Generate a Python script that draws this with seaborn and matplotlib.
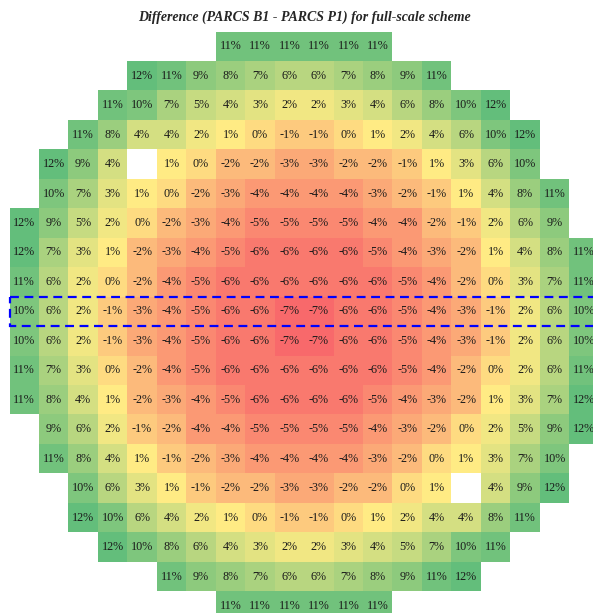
import numpy as np
import pandas as pd
import seaborn as sns
import matplotlib.pyplot as plt
from matplotlib.colors import LinearSegmentedColormap
from matplotlib.patches import Rectangle

# Core map: for each row, the first occupied column and the values (%) from there on.
# None marks an empty position inside the core.
row_start = [7, 4, 3, 2, 1, 1, 0, 0, 0, 0, 0, 0, 0, 1, 1, 2, 2, 3, 5, 7]
row_values = [
    [11, 11, 11, 11, 11, 11],
    [12, 11, 9, 8, 7, 6, 6, 7, 8, 9, 11],
    [11, 10, 7, 5, 4, 3, 2, 2, 3, 4, 6, 8, 10, 12],
    [11, 8, 4, 4, 2, 1, 0, -1, -1, 0, 1, 2, 4, 6, 10, 12],
    [12, 9, 4, None, 1, 0, -2, -2, -3, -3, -2, -2, -1, 1, 3, 6, 10],
    [10, 7, 3, 1, 0, -2, -3, -4, -4, -4, -4, -3, -2, -1, 1, 4, 8, 11],
    [12, 9, 5, 2, 0, -2, -3, -4, -5, -5, -5, -5, -4, -4, -2, -1, 2, 6, 9],
    [12, 7, 3, 1, -2, -3, -4, -5, -6, -6, -6, -6, -5, -4, -3, -2, 1, 4, 8, 11],
    [11, 6, 2, 0, -2, -4, -5, -6, -6, -6, -6, -6, -6, -5, -4, -2, 0, 3, 7, 11],
    [10, 6, 2, -1, -3, -4, -5, -6, -6, -7, -7, -6, -6, -5, -4, -3, -1, 2, 6, 10],
    [10, 6, 2, -1, -3, -4, -5, -6, -6, -7, -7, -6, -6, -5, -4, -3, -1, 2, 6, 10],
    [11, 7, 3, 0, -2, -4, -5, -6, -6, -6, -6, -6, -6, -5, -4, -2, 0, 2, 6, 11],
    [11, 8, 4, 1, -2, -3, -4, -5, -6, -6, -6, -6, -5, -4, -3, -2, 1, 3, 7, 12],
    [9, 6, 2, -1, -2, -4, -4, -5, -5, -5, -5, -4, -3, -2, 0, 2, 5, 9, 12],
    [11, 8, 4, 1, -1, -2, -3, -4, -4, -4, -4, -3, -2, 0, 1, 3, 7, 10],
    [10, 6, 3, 1, -1, -2, -2, -3, -3, -2, -2, 0, 1, None, 4, 9, 12],
    [12, 10, 6, 4, 2, 1, 0, -1, -1, 0, 1, 2, 4, 4, 8, 11],
    [12, 10, 8, 6, 4, 3, 2, 2, 3, 4, 5, 7, 10, 11],
    [11, 9, 8, 7, 6, 6, 7, 8, 9, 11, 12],
    [11, 11, 11, 11, 11, 11],
]
highlight_row = 9
title = "Difference (PARCS B1 - PARCS P1) for full-scale scheme"

n = 20
grid = np.full((n, n), np.nan)
for r, (start, vals) in enumerate(zip(row_start, row_values)):
    for j, v in enumerate(vals):
        if v is not None:
            grid[r, start + j] = v
df = pd.DataFrame(grid)
labels = np.array([["" if np.isnan(v) else f"{int(v)}%" for v in row] for row in grid])

# Three-colour scale: red (low) -> yellow (mid) -> green (high)
vmin, vmid, vmax = -7, 1, 12
cmap = LinearSegmentedColormap.from_list(
    "rdylgn_soft",
    [(0.0, "#F8696B"), ((vmid - vmin) / (vmax - vmin), "#FFEB84"), (1.0, "#63BE7B")],
)

sns.set_theme(style="white")
plt.rcParams["font.family"] = ["Liberation Serif", "DejaVu Serif"]

W, H = 593, 613
fig = plt.figure(figsize=(W / 100, H / 100), dpi=100)
cell = 29.46
x0, y0 = 9.5, 31.5
ax = fig.add_axes([x0 / W, (H - (y0 + n * cell)) / H, n * cell / W, n * cell / H])

sns.heatmap(
    df, ax=ax, cmap=cmap, vmin=vmin, vmax=vmax,
    annot=labels, fmt="", cbar=False,
    xticklabels=False, yticklabels=False,
    annot_kws=dict(fontsize=8.7, color="#1a1a1a"),
)
ax.set_xlabel("")
ax.set_ylabel("")

ax.add_patch(Rectangle((0, highlight_row), n, 1, fill=False, edgecolor="#0000FF",
                       lw=1.6, linestyle=(0, (4, 2.5)), clip_on=False, zorder=5))

fig.text((x0 + n * cell / 2) / W, 1 - 17.5 / H, title, ha="center", va="center",
         fontsize=10, fontweight="bold", fontstyle="italic")

fig.savefig("out.png", dpi=100)
